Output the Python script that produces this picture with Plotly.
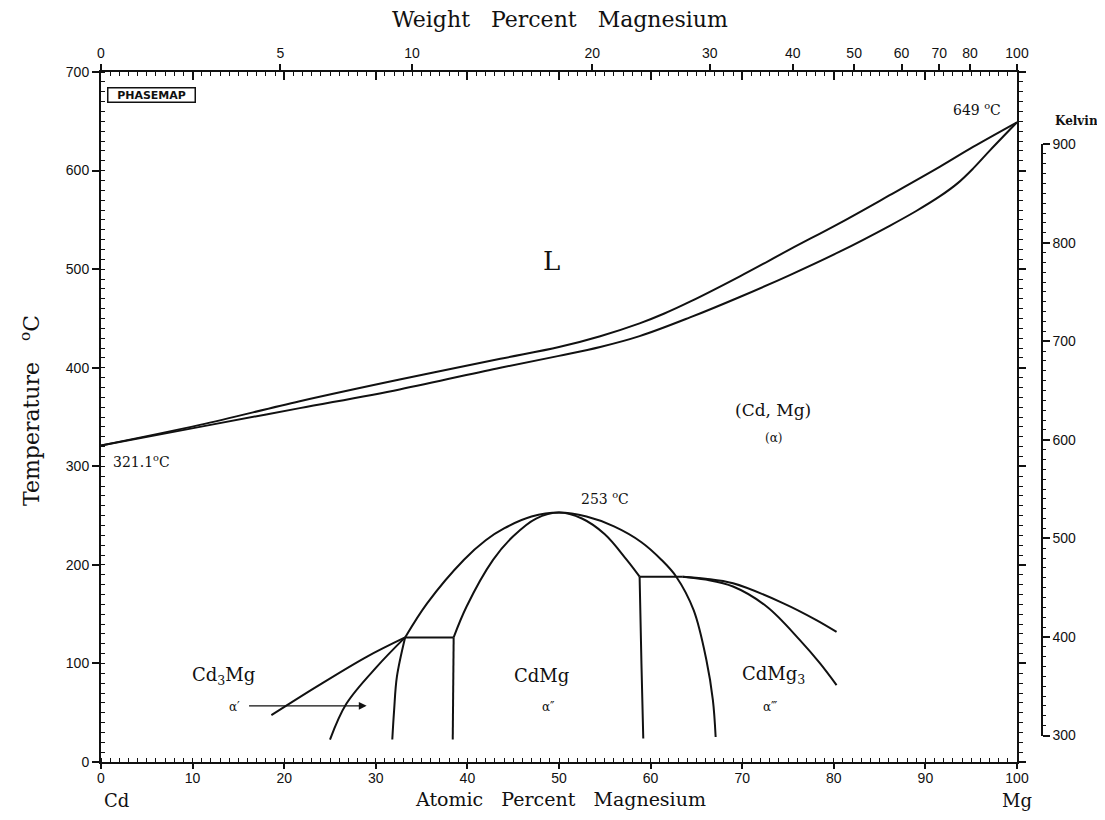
import plotly.graph_objects as go

# ---------------- data (atomic % Mg, temperature degC) ----------------
liquidus_x = [0, 10.8, 21.7, 32.6, 43.6, 50, 54.5, 58.8, 61.5, 64.3, 69.8, 75.2, 80.7, 86.1,
              91.6, 95.2, 100]
liquidus_t = [321.1, 342, 366, 388, 409, 421, 432, 445, 455, 467, 493, 520, 547, 575, 604,
              624, 649]

solidus_x = [0, 10.8, 21.7, 32.6, 43.6, 50, 54.5, 58.8, 64.3, 69.8, 75.2, 80.7, 86.1, 89.0,
             91.6, 93.5, 95.2, 97.1, 100]
solidus_t = [321.1, 340, 359, 378, 400, 412, 421, 432, 451, 472, 494, 518, 544, 559, 574,
             587, 602, 621, 649]

outer_dome_x = [33.2, 35.6, 39.6, 42, 44, 47, 50, 53, 56, 59, 61.2, 62.8, 64.7, 66.1, 66.8, 67.1]
outer_dome_t = [126.4, 161, 205, 225, 237, 249, 253, 249, 239, 223, 205, 188, 154, 103, 62.7, 25.4]

inner_dome_x = [38.5, 39.9, 42.8, 45, 47.5, 50, 52.5, 55, 57.4, 58.8]
inner_dome_t = [126.4, 157.5, 205, 229, 247, 253, 247, 231, 205, 188]

cd3mg_a_x = [18.6, 23.5, 29.0, 33.2]
cd3mg_a_t = [47.5, 76.2, 106.7, 126.4]
cd3mg_b_x = [25.0, 26.8, 30.1, 33.2]
cd3mg_b_t = [22.8, 59.3, 96.5, 126.4]
cd3mg_c_x = [31.8, 32.0, 32.3, 33.2]
cd3mg_c_t = [22.8, 52.6, 86.4, 126.4]

tie1_x = [33.2, 38.5]
tie1_t = [126.4, 126.4]
vert1_x = [38.5, 38.4]
vert1_t = [126.4, 22.8]

vert2_x = [58.8, 59.0, 59.2]
vert2_t = [188, 100, 23.8]
tie2_x = [58.8, 63.5]
tie2_t = [188, 188]

cdmg3_up_x = [63.5, 66, 69.0, 74.5, 78.1, 80.3]
cdmg3_up_t = [188, 186, 181.3, 161, 144, 132]
cdmg3_lo_x = [63.5, 66, 69.0, 72.7, 76.3, 78.5, 80.3]
cdmg3_lo_t = [188, 185, 178, 157.5, 123.7, 100, 78]

# axis ticks
at_ticks = [0, 10, 20, 30, 40, 50, 60, 70, 80, 90, 100]
wt_ticks = [0, 5, 10, 20, 30, 40, 50, 60, 70, 80, 100]
kelvin_ticks = [300, 400, 500, 600, 700, 800, 900]
M_MG, M_CD = 24.305, 112.41


def wt_to_at(w):
    if w >= 100:
        return 100.0
    a = w / M_MG
    b = (100 - w) / M_CD
    return 100 * a / (a + b)


wt_pos = [wt_to_at(w) for w in wt_ticks]

BLACK = "#111111"
SERIF = "DejaVu Serif"
SANS = "Liberation Sans"

fig = go.Figure()

curves = [
    (liquidus_x, liquidus_t), (solidus_x, solidus_t),
    (outer_dome_x, outer_dome_t), (inner_dome_x, inner_dome_t),
    (cd3mg_a_x, cd3mg_a_t), (cd3mg_b_x, cd3mg_b_t), (cd3mg_c_x, cd3mg_c_t),
    (tie1_x, tie1_t), (vert1_x, vert1_t), (vert2_x, vert2_t), (tie2_x, tie2_t),
    (cdmg3_up_x, cdmg3_up_t), (cdmg3_lo_x, cdmg3_lo_t),
]
for xs, ts in curves:
    fig.add_trace(go.Scatter(x=xs, y=ts, mode="lines",
                             line=dict(color=BLACK, width=2, shape="spline", smoothing=1.0),
                             hoverinfo="skip", showlegend=False))

# invisible helpers so that the extra axes are drawn
fig.add_trace(go.Scatter(x=[0, 100], y=[0, 0], xaxis="x2", yaxis="y", mode="lines",
                         line=dict(width=0), opacity=0, hoverinfo="skip", showlegend=False))
fig.add_trace(go.Scatter(x=[0, 100], y=[0, 0], xaxis="x3", yaxis="y", mode="lines",
                         line=dict(width=0), opacity=0, hoverinfo="skip", showlegend=False))
fig.add_trace(go.Scatter(x=[0, 0], y=[300, 900], xaxis="x", yaxis="y3", mode="lines",
                         line=dict(width=0), opacity=0, hoverinfo="skip", showlegend=False))
fig.add_trace(go.Scatter(x=[0, 0], y=[0, 700], xaxis="x", yaxis="y4", mode="lines",
                         line=dict(width=0), opacity=0, hoverinfo="skip", showlegend=False))

XDOM = [0, 916 / 941]
tickfont = dict(family=SANS, size=14, color=BLACK)

fig.update_layout(
    width=1089, height=804,
    margin=dict(l=93, r=55, t=64, b=50),
    paper_bgcolor="white", plot_bgcolor="rgba(0,0,0,0)",
    showlegend=False,
    xaxis=dict(domain=XDOM, range=[0, 100], tickvals=at_ticks, ticks="outside", ticklen=5,
               tickwidth=1.5, tickcolor=BLACK, showline=True, linewidth=2, linecolor=BLACK,
               showgrid=False, zeroline=False, tickfont=tickfont, anchor="y",
               ticklabelstandoff=-3,
               minor=dict(dtick=1, ticks="inside", ticklen=4, tickwidth=1, tickcolor=BLACK)),
    xaxis3=dict(overlaying="x", side="top", range=[0, 100], tickvals=at_ticks, ticks="inside",
                ticklen=8, tickwidth=1.5, tickcolor=BLACK, showline=True, linewidth=2,
                linecolor=BLACK, showgrid=False, zeroline=False, showticklabels=False,
                anchor="y",
                minor=dict(dtick=1, ticks="inside", ticklen=4, tickwidth=1, tickcolor=BLACK)),
    xaxis2=dict(overlaying="x", side="top", range=[0, 100], tickvals=wt_pos,
                ticktext=[str(w) for w in wt_ticks], ticks="outside", ticklen=7, tickwidth=1.5,
                tickcolor=BLACK, showline=False, showgrid=False, zeroline=False,
                tickfont=tickfont, anchor="y"),
    yaxis=dict(range=[0, 700], dtick=100, ticks="outside", ticklen=7, tickwidth=1.5,
               tickcolor=BLACK, showline=True, linewidth=2, linecolor=BLACK, showgrid=False,
               zeroline=False, tickfont=tickfont, anchor="x",
               minor=dict(dtick=10, ticks="inside", ticklen=4, tickwidth=1, tickcolor=BLACK)),
    yaxis4=dict(overlaying="y", side="right", range=[0, 700], dtick=100, ticks="outside",
                ticklen=7, tickwidth=1.5, tickcolor=BLACK, showline=True, linewidth=2,
                linecolor=BLACK, showgrid=False, zeroline=False, showticklabels=False,
                anchor="x",
                minor=dict(dtick=10, ticks="outside", ticklen=4, tickwidth=1, tickcolor=BLACK)),
    yaxis3=dict(domain=[(300 - 273.15) / 700, (900 - 273.15) / 700], range=[300, 900],
                anchor="free", position=1.0, side="right", tickvals=kelvin_ticks,
                ticks="outside", ticklen=7, tickwidth=1.5, tickcolor=BLACK, showline=True,
                linewidth=1.5, linecolor=BLACK, showgrid=False, zeroline=False,
                tickfont=tickfont,
                minor=dict(dtick=10, ticks="outside", ticklen=3, tickwidth=1, tickcolor=BLACK)),
)

ann = []


def label(x, y, text, size, family=SERIF, xref="x", yref="y", **kw):
    ann.append(dict(x=x, y=y, xref=xref, yref=yref, text=text, showarrow=False,
                    xanchor="center", yanchor="middle",
                    font=dict(family=family, size=size, color=BLACK), **kw))


# axis titles
label(0.4878, 1.0754, "Weight&nbsp;&nbsp; Percent&nbsp;&nbsp; Magnesium", 22,
      xref="paper", yref="paper")
label(0.4878, -0.0536, "Atomic&nbsp;&nbsp; Percent&nbsp;&nbsp; Magnesium", 19,
      xref="paper", yref="paper")
label(-0.0755, 0.51, "Temperature&nbsp;&nbsp; <sup>o</sup>C", 22, xref="paper", yref="paper",
      textangle=-90)
label(0.017, -0.0565, "Cd", 18, xref="paper", yref="paper")
label(0.9734, -0.0565, "Mg", 18, xref="paper", yref="paper")
label(1.0365, 0.929, "<b>Kelvin</b>", 12, xref="paper", yref="paper")

# region / point labels
label(49.2, 508, "L", 26)
label(95.6, 662, "649 <sup>o</sup>C", 14)
label(4.4, 305, "321.1<sup>o</sup>C", 14)
label(55.0, 268, "253 <sup>o</sup>C", 14)
label(73.4, 357, "(Cd, Mg)", 17)
label(73.4, 329, "(α)", 12)
label(13.4, 87, "Cd<sub>3</sub>Mg", 18)
label(14.6, 56, "α′", 12)
label(48.1, 88, "CdMg", 18)
label(48.8, 56, "α″", 12)
label(73.4, 88, "CdMg<sub>3</sub>", 18)
label(73.0, 56, "α‴", 12)

# PHASEMAP logo
ann.append(dict(x=5.5, y=677, xref="x", yref="y", text="<b>PHASEMAP</b>", showarrow=False,
                xanchor="center", yanchor="middle", width=84, height=11, align="center",
                font=dict(family="DejaVu Sans", size=11, color=BLACK),
                bordercolor=BLACK, borderwidth=1.5, borderpad=1, bgcolor="white"))

# arrow alpha'
ann.append(dict(x=29.0, y=57, ax=16.0, ay=57, xref="x", yref="y", axref="x", ayref="y",
                text="", showarrow=True, arrowhead=2, arrowsize=1.2, arrowwidth=1.3,
                arrowcolor=BLACK))

fig.update_layout(annotations=ann)

fig.write_html("out.html")
